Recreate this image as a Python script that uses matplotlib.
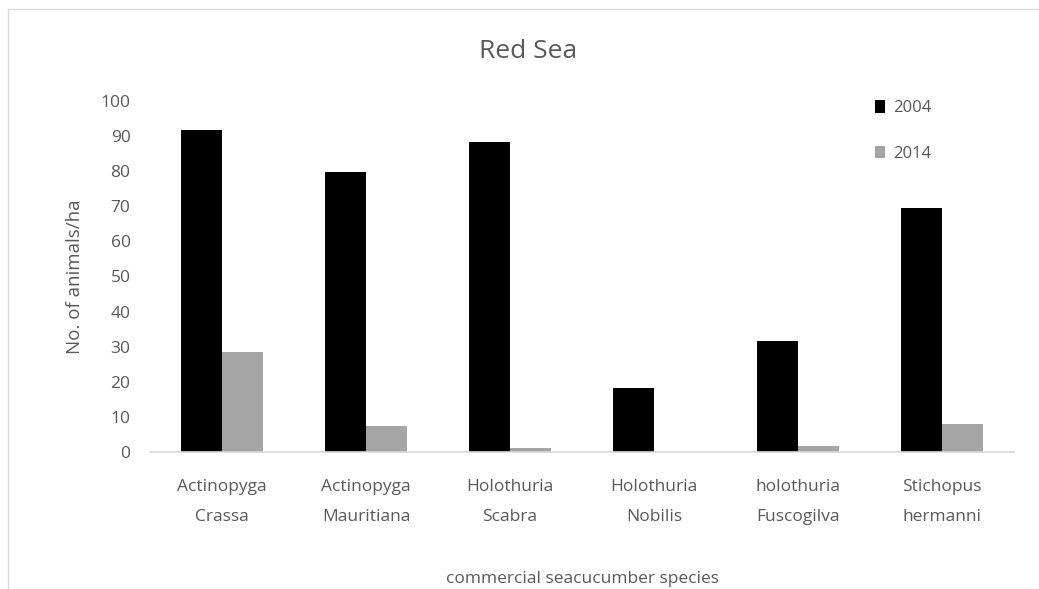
import matplotlib
matplotlib.use("Agg")
import matplotlib.pyplot as plt
import numpy as np
from matplotlib.patches import Rectangle

categories = ["Actinopyga\nCrassa", "Actinopyga\nMauritiana", "Holothuria\nScabra",
              "Holothuria\nNobilis", "holothuria\nFuscogilva", "Stichopus\nhermanni"]
series_names = ["2004", "2014"]
values_2004 = [91.8, 79.8, 88.4, 18.2, 31.7, 69.5]
values_2014 = [28.5, 7.4, 1.1, 0.0, 1.7, 8.0]
yticks = [0, 10, 20, 30, 40, 50, 60, 70, 80, 90, 100]

plt.rcParams['font.family'] = ['Open Sans', 'DejaVu Sans']
txt = '#595959'

fig = plt.figure(figsize=(10.39, 5.89), dpi=100)
W, H = 1039, 589
ax = fig.add_axes([150/W, 1-452/H, (1014-150)/W, (452-101)/H])

x = np.arange(len(categories))
bw = 0.285
ax.bar(x - bw/2, values_2004, bw, color='black', label=series_names[0])
ax.bar(x + bw/2, values_2014, bw, color='#a5a5a5', label=series_names[1])

ax.set_xlim(-0.5, len(categories) - 0.5)
ax.set_ylim(0, 100)
ax.set_yticks(yticks)
ax.set_xticks(x)
ax.set_xticklabels(categories, fontsize=12.5, color=txt, linespacing=2.15)
ax.tick_params(axis='y', labelsize=12.5, colors=txt, length=0, pad=14)
ax.tick_params(axis='x', length=0, pad=19.5)
for s in ['top', 'right', 'left']:
    ax.spines[s].set_visible(False)
ax.spines['bottom'].set_color('#d9d9d9')
ax.spines['bottom'].set_linewidth(1.2)

ax.set_ylabel("No. of animals/ha", fontsize=13.5, color=txt, labelpad=12)
ax.set_xlabel("commercial seacucumber species", fontsize=12.5, color=txt, labelpad=33)
fig.text(528/W, 1-52/H, "Red Sea", fontsize=19, color=txt, ha='center', va='center')

leg = ax.legend(loc='upper left', bbox_to_anchor=((860-150)/(1014-150), 1.045),
                frameon=False, fontsize=12, labelcolor=txt, handlelength=0.6,
                handleheight=0.8, handletextpad=0.5, labelspacing=1.75)

fig.patches.append(Rectangle((8/W, 0), 1.2, 1-9/H, transform=fig.transFigure,
                             fill=False, edgecolor='#d9d9d9', linewidth=1))
fig.savefig("out.png", dpi=100)
